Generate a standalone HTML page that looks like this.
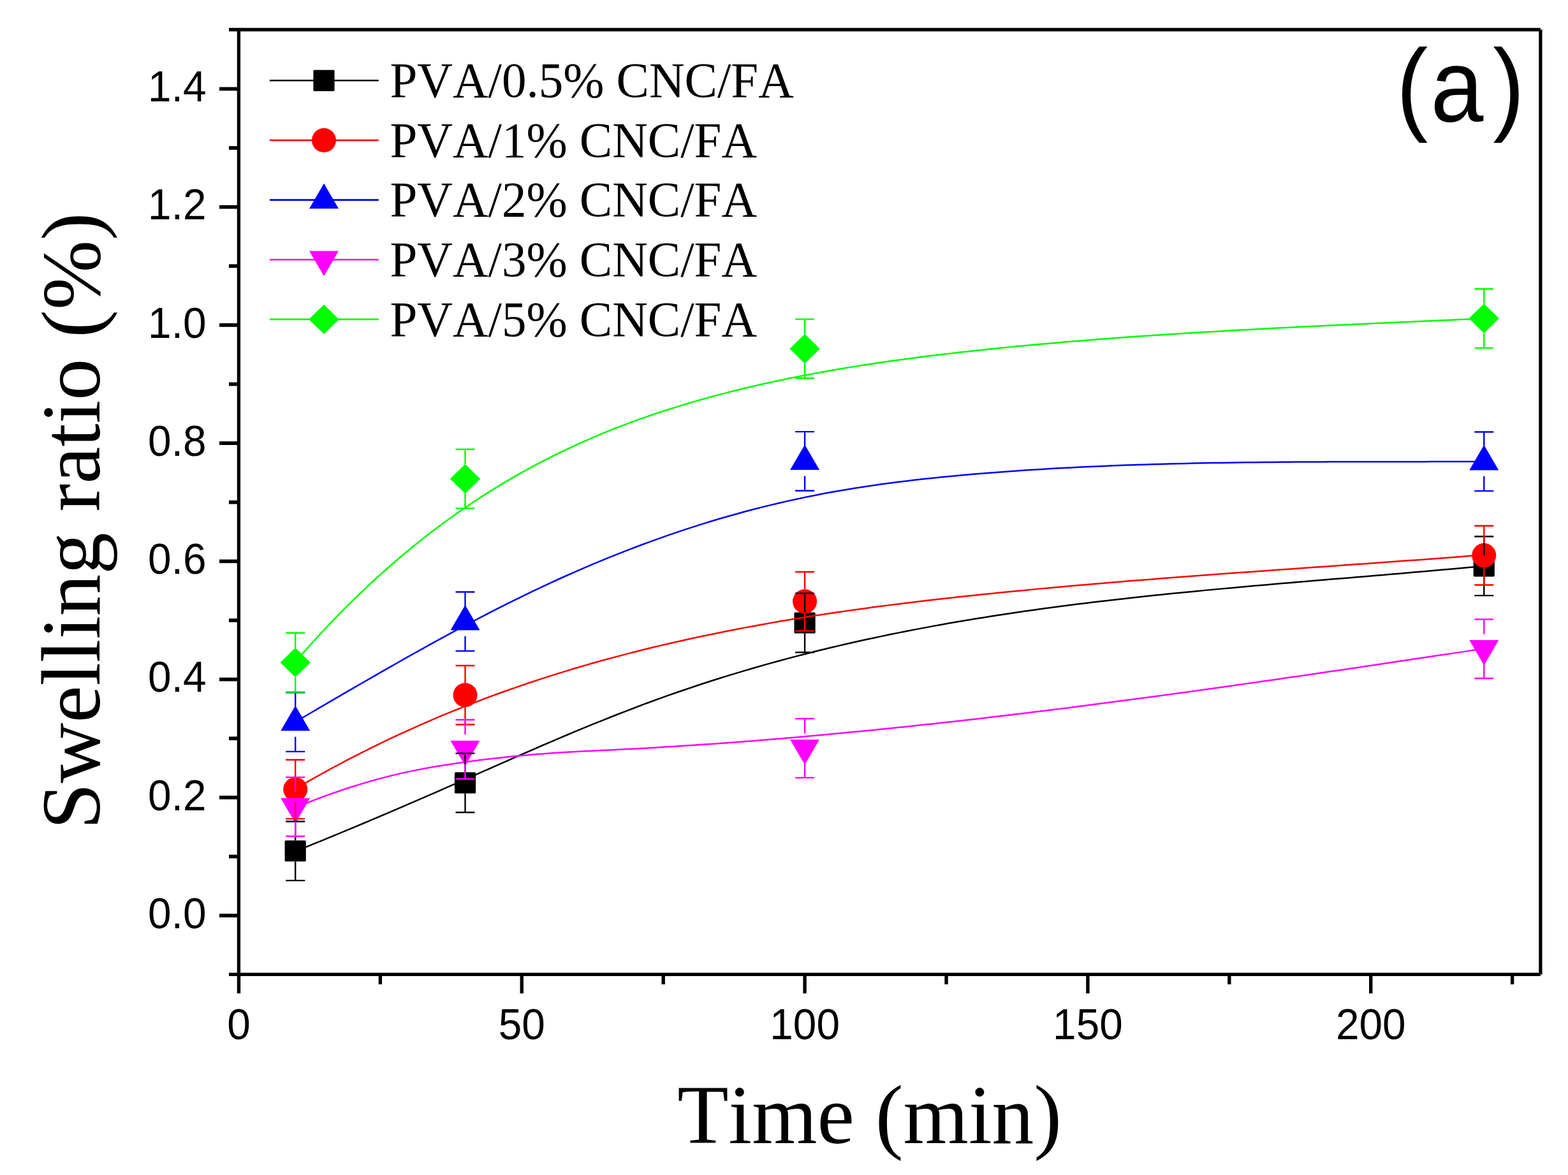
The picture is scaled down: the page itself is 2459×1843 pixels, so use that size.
<!DOCTYPE html>
<html><head><meta charset="utf-8"><title>Swelling ratio vs time</title>
<style>html,body{margin:0;padding:0;background:#fff;}svg{display:block;}text{font-kerning:none;}</style>
</head><body>
<svg width="2459" height="1843" viewBox="0 0 2459 1843">
<rect width="2459" height="1843" fill="#fff"/>
<g stroke="#000" stroke-width="5.3" fill="none">
<line x1="374.4" y1="44" x2="374.4" y2="1531"/>
<line x1="359" y1="46.5" x2="2415.9" y2="46.5"/>
<line x1="2415.9" y1="46.5" x2="2415.9" y2="1528.4"/>
<line x1="359" y1="1528.4" x2="2415.9" y2="1528.4"/>
</g>
<g stroke="#000" stroke-width="5.7" fill="none">
<line x1="344" y1="1436.1" x2="374.4" y2="1436.1"/>
<line x1="344" y1="1250.86" x2="374.4" y2="1250.86"/>
<line x1="344" y1="1065.62" x2="374.4" y2="1065.62"/>
<line x1="344" y1="880.38" x2="374.4" y2="880.38"/>
<line x1="344" y1="695.14" x2="374.4" y2="695.14"/>
<line x1="344" y1="509.9" x2="374.4" y2="509.9"/>
<line x1="344" y1="324.66" x2="374.4" y2="324.66"/>
<line x1="344" y1="139.42" x2="374.4" y2="139.42"/>
<line x1="359" y1="1343.48" x2="374.4" y2="1343.48"/>
<line x1="359" y1="1158.24" x2="374.4" y2="1158.24"/>
<line x1="359" y1="973" x2="374.4" y2="973"/>
<line x1="359" y1="787.76" x2="374.4" y2="787.76"/>
<line x1="359" y1="602.52" x2="374.4" y2="602.52"/>
<line x1="359" y1="417.28" x2="374.4" y2="417.28"/>
<line x1="359" y1="232.04" x2="374.4" y2="232.04"/>
</g>
<g stroke="#000" stroke-width="5.4" fill="none">
<line x1="374.45" y1="1528.4" x2="374.45" y2="1558.2"/>
<line x1="818.27" y1="1528.4" x2="818.27" y2="1558.2"/>
<line x1="1262.1" y1="1528.4" x2="1262.1" y2="1558.2"/>
<line x1="1705.92" y1="1528.4" x2="1705.92" y2="1558.2"/>
<line x1="2149.75" y1="1528.4" x2="2149.75" y2="1558.2"/>
<line x1="596.36" y1="1528.4" x2="596.36" y2="1543.9"/>
<line x1="1040.19" y1="1528.4" x2="1040.19" y2="1543.9"/>
<line x1="1484.01" y1="1528.4" x2="1484.01" y2="1543.9"/>
<line x1="1927.84" y1="1528.4" x2="1927.84" y2="1543.9"/>
<line x1="2371.66" y1="1528.4" x2="2371.66" y2="1543.9"/>
</g>
<g font-family="'Liberation Sans', Arial, sans-serif" font-size="69" fill="#000">
<text transform="translate(323.5 1455.8) scale(0.953 1)" text-anchor="end">0.0</text>
<text transform="translate(323.5 1270.56) scale(0.953 1)" text-anchor="end">0.2</text>
<text transform="translate(323.5 1085.32) scale(0.953 1)" text-anchor="end">0.4</text>
<text transform="translate(323.5 900.08) scale(0.953 1)" text-anchor="end">0.6</text>
<text transform="translate(323.5 714.84) scale(0.953 1)" text-anchor="end">0.8</text>
<text transform="translate(323.5 529.6) scale(0.953 1)" text-anchor="end">1.0</text>
<text transform="translate(323.5 344.36) scale(0.953 1)" text-anchor="end">1.2</text>
<text transform="translate(323.5 159.12) scale(0.953 1)" text-anchor="end">1.4</text>
<text transform="translate(374.45 1630.3) scale(0.953 1)" text-anchor="middle">0</text>
<text transform="translate(818.27 1630.3) scale(0.953 1)" text-anchor="middle">50</text>
<text transform="translate(1262.1 1630.3) scale(0.953 1)" text-anchor="middle">100</text>
<text transform="translate(1705.92 1630.3) scale(0.953 1)" text-anchor="middle">150</text>
<text transform="translate(2149.75 1630.3) scale(0.953 1)" text-anchor="middle">200</text>
</g>
<text transform="translate(1062.2 1792.8) scale(0.9946 1)" font-family="'Liberation Serif', 'Times New Roman', serif" font-size="132.3" fill="#000">Time (min)</text>
<text transform="translate(156.4 1301) rotate(-90)" x="0" y="0" font-family="'Liberation Serif', 'Times New Roman', serif" font-size="131" fill="#000">Swelling ratio (%)</text>
<text transform="translate(2189 189.8) scale(0.92 1)" font-family="'Liberation Sans', Arial, sans-serif" font-size="162" fill="#000"><tspan x="0.7">(</tspan><tspan x="59.3">a</tspan><tspan x="165.6">)</tspan></text>
<line x1="422.9" y1="126.3" x2="593.8" y2="126.3" stroke="#000000" stroke-width="2.6"/>
<rect x="491.4" y="109.7" width="33.2" height="33.2" rx="1.6" fill="#000000"/>
<text transform="translate(611.5 151.9) scale(0.9875 1)" font-family="'Liberation Serif', 'Times New Roman', serif" font-size="78" fill="#000">PVA/0.5% CNC/FA</text>
<line x1="422.9" y1="219.95" x2="593.8" y2="219.95" stroke="#ff0000" stroke-width="2.6"/>
<circle cx="508" cy="219.95" r="19" fill="#ff0000"/>
<text transform="translate(611.5 245.65) scale(0.9875 1)" font-family="'Liberation Serif', 'Times New Roman', serif" font-size="78" fill="#000">PVA/1% CNC/FA</text>
<line x1="422.9" y1="313.6" x2="593.8" y2="313.6" stroke="#0000ff" stroke-width="2.6"/>
<polygon points="508,287.8 531,327.2 485,327.2" fill="#0000ff"/>
<text transform="translate(611.5 339.4) scale(0.9875 1)" font-family="'Liberation Serif', 'Times New Roman', serif" font-size="78" fill="#000">PVA/2% CNC/FA</text>
<line x1="422.9" y1="407.25" x2="593.8" y2="407.25" stroke="#ff00ff" stroke-width="2.6"/>
<polygon points="508,433.05 531,393.65 485,393.65" fill="#ff00ff"/>
<text transform="translate(611.5 433.15) scale(0.9875 1)" font-family="'Liberation Serif', 'Times New Roman', serif" font-size="78" fill="#000">PVA/3% CNC/FA</text>
<line x1="422.9" y1="500.9" x2="593.8" y2="500.9" stroke="#00ff00" stroke-width="2.6"/>
<polygon points="508,477.7 531.7,500.9 508,524.1 484.3,500.9" fill="#00ff00"/>
<text transform="translate(611.5 526.9) scale(0.9875 1)" font-family="'Liberation Serif', 'Times New Roman', serif" font-size="78" fill="#000">PVA/5% CNC/FA</text>
<rect x="446.61" y="1318.17" width="33.2" height="33.2" rx="1.6" fill="#000000"/>
<rect x="712.91" y="1211.29" width="33.2" height="33.2" rx="1.6" fill="#000000"/>
<rect x="1245.5" y="960.38" width="33.2" height="33.2" rx="1.6" fill="#000000"/>
<rect x="2310.68" y="871.19" width="33.2" height="33.2" rx="1.6" fill="#000000"/>
<polyline points="463.21,1335.27 476.53,1329.9 489.84,1324.5 503.16,1319.08 516.47,1313.62 529.79,1308.13 543.1,1302.62 556.42,1297.07 569.73,1291.49 583.05,1285.89 596.36,1280.25 609.68,1274.59 622.99,1268.9 636.31,1263.18 649.62,1257.43 662.94,1251.66 676.25,1245.87 689.57,1240.06 702.88,1234.22 716.2,1228.37 729.51,1222.5 742.82,1216.62 756.14,1210.73 769.45,1204.83 782.77,1198.94 796.08,1193.06 809.4,1187.2 822.71,1181.36 836.03,1175.55 849.34,1169.77 862.66,1164.04 875.97,1158.36 889.29,1152.73 902.6,1147.16 915.92,1141.64 929.23,1136.19 942.55,1130.8 955.86,1125.48 969.18,1120.24 982.49,1115.06 995.81,1109.97 1009.12,1104.95 1022.43,1100.02 1035.75,1095.18 1049.06,1090.43 1062.38,1085.77 1075.69,1081.2 1089.01,1076.71 1102.32,1072.31 1115.64,1068 1128.95,1063.78 1142.27,1059.64 1155.58,1055.58 1168.9,1051.6 1182.21,1047.7 1195.53,1043.88 1208.84,1040.14 1222.16,1036.48 1235.47,1032.89 1248.79,1029.38 1262.1,1025.94 1275.41,1022.57 1288.73,1019.27 1302.04,1016.05 1315.36,1012.89 1328.67,1009.8 1341.99,1006.78 1355.3,1003.82 1368.62,1000.93 1381.93,998.1 1395.25,995.33 1408.56,992.62 1421.88,989.98 1435.19,987.39 1448.51,984.86 1461.82,982.38 1475.14,979.96 1488.45,977.6 1501.77,975.29 1515.08,973.03 1528.39,970.82 1541.71,968.66 1555.02,966.55 1568.34,964.48 1581.65,962.46 1594.97,960.49 1608.28,958.56 1621.6,956.67 1634.91,954.83 1648.23,953.02 1661.54,951.25 1674.86,949.53 1688.17,947.83 1701.49,946.18 1714.8,944.56 1728.12,942.97 1741.43,941.42 1754.75,939.89 1768.06,938.4 1781.38,936.93 1794.69,935.5 1808,934.09 1821.32,932.7 1834.63,931.34 1847.95,930.01 1861.26,928.69 1874.58,927.4 1887.89,926.12 1901.21,924.87 1914.52,923.63 1927.84,922.41 1941.15,921.2 1954.47,920.01 1967.78,918.83 1981.1,917.66 1994.41,916.5 2007.73,915.36 2021.04,914.22 2034.36,913.09 2047.67,911.96 2060.99,910.84 2074.3,909.72 2087.61,908.61 2100.93,907.5 2114.24,906.38 2127.56,905.27 2140.87,904.15 2154.19,903.04 2167.5,901.91 2180.82,900.79 2194.13,899.65 2207.45,898.51 2220.76,897.36 2234.08,896.2 2247.39,895.03 2260.71,893.84 2274.02,892.65 2287.34,891.44 2300.65,890.21 2313.97,888.97 2327.28,887.7" stroke="#000000" stroke-width="2.5" fill="none" stroke-linejoin="round"/>
<circle cx="463.21" cy="1238.08" r="19" fill="#ff0000"/>
<circle cx="729.51" cy="1090.26" r="19" fill="#ff0000"/>
<circle cx="1262.1" cy="943.36" r="19" fill="#ff0000"/>
<circle cx="2327.28" cy="871.12" r="19" fill="#ff0000"/>
<polyline points="463.21,1237.31 476.53,1229.56 489.84,1221.96 503.16,1214.49 516.47,1207.17 529.79,1199.99 543.1,1192.94 556.42,1186.03 569.73,1179.25 583.05,1172.6 596.36,1166.08 609.68,1159.69 622.99,1153.43 636.31,1147.29 649.62,1141.28 662.94,1135.38 676.25,1129.61 689.57,1123.95 702.88,1118.41 716.2,1112.98 729.51,1107.67 742.82,1102.47 756.14,1097.37 769.45,1092.39 782.77,1087.51 796.08,1082.73 809.4,1078.06 822.71,1073.48 836.03,1069.01 849.34,1064.63 862.66,1060.35 875.97,1056.16 889.29,1052.07 902.6,1048.06 915.92,1044.15 929.23,1040.32 942.55,1036.57 955.86,1032.91 969.18,1029.34 982.49,1025.84 995.81,1022.42 1009.12,1019.08 1022.43,1015.81 1035.75,1012.61 1049.06,1009.49 1062.38,1006.44 1075.69,1003.46 1089.01,1000.54 1102.32,997.69 1115.64,994.91 1128.95,992.19 1142.27,989.53 1155.58,986.93 1168.9,984.39 1182.21,981.91 1195.53,979.49 1208.84,977.12 1222.16,974.81 1235.47,972.55 1248.79,970.35 1262.1,968.19 1275.41,966.08 1288.73,964.03 1302.04,962.01 1315.36,960.05 1328.67,958.12 1341.99,956.24 1355.3,954.41 1368.62,952.61 1381.93,950.85 1395.25,949.13 1408.56,947.44 1421.88,945.79 1435.19,944.17 1448.51,942.59 1461.82,941.04 1475.14,939.51 1488.45,938.02 1501.77,936.55 1515.08,935.11 1528.39,933.69 1541.71,932.29 1555.02,930.92 1568.34,929.57 1581.65,928.24 1594.97,926.93 1608.28,925.65 1621.6,924.38 1634.91,923.13 1648.23,921.9 1661.54,920.69 1674.86,919.49 1688.17,918.31 1701.49,917.15 1714.8,916.01 1728.12,914.88 1741.43,913.76 1754.75,912.66 1768.06,911.57 1781.38,910.49 1794.69,909.43 1808,908.38 1821.32,907.34 1834.63,906.3 1847.95,905.28 1861.26,904.27 1874.58,903.27 1887.89,902.28 1901.21,901.29 1914.52,900.31 1927.84,899.34 1941.15,898.37 1954.47,897.41 1967.78,896.45 1981.1,895.49 1994.41,894.54 2007.73,893.6 2021.04,892.65 2034.36,891.71 2047.67,890.77 2060.99,889.83 2074.3,888.89 2087.61,887.95 2100.93,887.01 2114.24,886.06 2127.56,885.12 2140.87,884.17 2154.19,883.22 2167.5,882.26 2180.82,881.3 2194.13,880.33 2207.45,879.36 2220.76,878.39 2234.08,877.4 2247.39,876.41 2260.71,875.41 2274.02,874.4 2287.34,873.38 2300.65,872.36 2313.97,871.32 2327.28,870.27" stroke="#ff0000" stroke-width="2.5" fill="none" stroke-linejoin="round"/>
<polygon points="463.21,1106.78 486.21,1146.18 440.21,1146.18" fill="#0000ff"/>
<polygon points="729.51,949.05 752.51,988.45 706.51,988.45" fill="#0000ff"/>
<polygon points="1262.1,697.59 1285.1,736.99 1239.1,736.99" fill="#0000ff"/>
<polygon points="2327.28,698.05 2350.28,737.45 2304.28,737.45" fill="#0000ff"/>
<polyline points="463.21,1132.29 476.53,1124.51 489.84,1116.73 503.16,1108.95 516.47,1101.18 529.79,1093.42 543.1,1085.67 556.42,1077.94 569.73,1070.24 583.05,1062.56 596.36,1054.91 609.68,1047.3 622.99,1039.73 636.31,1032.2 649.62,1024.72 662.94,1017.29 676.25,1009.91 689.57,1002.59 702.88,995.34 716.2,988.15 729.51,981.04 742.82,974 756.14,967.04 769.45,960.16 782.77,953.37 796.08,946.67 809.4,940.05 822.71,933.54 836.03,927.12 849.34,920.8 862.66,914.59 875.97,908.49 889.29,902.49 902.6,896.61 915.92,890.83 929.23,885.17 942.55,879.61 955.86,874.17 969.18,868.83 982.49,863.61 995.81,858.49 1009.12,853.49 1022.43,848.61 1035.75,843.83 1049.06,839.16 1062.38,834.61 1075.69,830.18 1089.01,825.85 1102.32,821.64 1115.64,817.55 1128.95,813.56 1142.27,809.7 1155.58,805.95 1168.9,802.31 1182.21,798.79 1195.53,795.39 1208.84,792.1 1222.16,788.93 1235.47,785.87 1248.79,782.94 1262.1,780.12 1275.41,777.41 1288.73,774.83 1302.04,772.35 1315.36,769.98 1328.67,767.71 1341.99,765.55 1355.3,763.47 1368.62,761.49 1381.93,759.6 1395.25,757.8 1408.56,756.08 1421.88,754.43 1435.19,752.86 1448.51,751.35 1461.82,749.92 1475.14,748.55 1488.45,747.23 1501.77,745.98 1515.08,744.77 1528.39,743.61 1541.71,742.5 1555.02,741.43 1568.34,740.41 1581.65,739.43 1594.97,738.48 1608.28,737.58 1621.6,736.72 1634.91,735.89 1648.23,735.11 1661.54,734.36 1674.86,733.64 1688.17,732.96 1701.49,732.32 1714.8,731.71 1728.12,731.13 1741.43,730.58 1754.75,730.06 1768.06,729.57 1781.38,729.11 1794.69,728.68 1808,728.27 1821.32,727.89 1834.63,727.53 1847.95,727.2 1861.26,726.9 1874.58,726.61 1887.89,726.35 1901.21,726.11 1914.52,725.88 1927.84,725.68 1941.15,725.49 1954.47,725.32 1967.78,725.17 1981.1,725.03 1994.41,724.91 2007.73,724.8 2021.04,724.7 2034.36,724.61 2047.67,724.54 2060.99,724.47 2074.3,724.42 2087.61,724.37 2100.93,724.33 2114.24,724.3 2127.56,724.27 2140.87,724.24 2154.19,724.22 2167.5,724.2 2180.82,724.19 2194.13,724.17 2207.45,724.16 2220.76,724.14 2234.08,724.13 2247.39,724.11 2260.71,724.08 2274.02,724.06 2287.34,724.02 2300.65,723.98 2313.97,723.94 2327.28,723.88" stroke="#0000ff" stroke-width="2.5" fill="none" stroke-linejoin="round"/>
<polygon points="463.21,1291.2 486.21,1251.8 440.21,1251.8" fill="#ff00ff"/>
<polygon points="729.51,1201.17 752.51,1161.77 706.51,1161.77" fill="#ff00ff"/>
<polygon points="1262.1,1199.41 1285.1,1160.01 1239.1,1160.01" fill="#ff00ff"/>
<polygon points="2327.28,1043.44 2350.28,1004.04 2304.28,1004.04" fill="#ff00ff"/>
<polyline points="463.21,1266.65 476.53,1261.28 489.84,1256.07 503.16,1251.03 516.47,1246.17 529.79,1241.5 543.1,1237.02 556.42,1232.73 569.73,1228.64 583.05,1224.76 596.36,1221.09 609.68,1217.64 622.99,1214.41 636.31,1211.4 649.62,1208.6 662.94,1206 676.25,1203.57 689.57,1201.31 702.88,1199.18 716.2,1197.18 729.51,1195.3 742.82,1193.51 756.14,1191.81 769.45,1190.21 782.77,1188.7 796.08,1187.29 809.4,1185.96 822.71,1184.72 836.03,1183.57 849.34,1182.5 862.66,1181.52 875.97,1180.62 889.29,1179.8 902.6,1179.05 915.92,1178.36 929.23,1177.72 942.55,1177.08 955.86,1176.45 969.18,1175.79 982.49,1175.11 995.81,1174.4 1009.12,1173.66 1022.43,1172.9 1035.75,1172.12 1049.06,1171.31 1062.38,1170.47 1075.69,1169.62 1089.01,1168.74 1102.32,1167.83 1115.64,1166.9 1128.95,1165.95 1142.27,1164.98 1155.58,1163.98 1168.9,1162.96 1182.21,1161.92 1195.53,1160.86 1208.84,1159.77 1222.16,1158.67 1235.47,1157.54 1248.79,1156.39 1262.1,1155.23 1275.41,1154.04 1288.73,1152.83 1302.04,1151.6 1315.36,1150.36 1328.67,1149.09 1341.99,1147.8 1355.3,1146.5 1368.62,1145.17 1381.93,1143.83 1395.25,1142.47 1408.56,1141.1 1421.88,1139.7 1435.19,1138.29 1448.51,1136.86 1461.82,1135.41 1475.14,1133.95 1488.45,1132.47 1501.77,1130.98 1515.08,1129.47 1528.39,1127.94 1541.71,1126.4 1555.02,1124.84 1568.34,1123.27 1581.65,1121.68 1594.97,1120.08 1608.28,1118.47 1621.6,1116.84 1634.91,1115.2 1648.23,1113.54 1661.54,1111.88 1674.86,1110.2 1688.17,1108.5 1701.49,1106.8 1714.8,1105.08 1728.12,1103.35 1741.43,1101.61 1754.75,1099.86 1768.06,1098.09 1781.38,1096.32 1794.69,1094.53 1808,1092.74 1821.32,1090.93 1834.63,1089.12 1847.95,1087.29 1861.26,1085.46 1874.58,1083.62 1887.89,1081.77 1901.21,1079.91 1914.52,1078.04 1927.84,1076.16 1941.15,1074.28 1954.47,1072.38 1967.78,1070.48 1981.1,1068.58 1994.41,1066.67 2007.73,1064.75 2021.04,1062.82 2034.36,1060.89 2047.67,1058.95 2060.99,1057.01 2074.3,1055.06 2087.61,1053.11 2100.93,1051.15 2114.24,1049.18 2127.56,1047.22 2140.87,1045.25 2154.19,1043.27 2167.5,1041.29 2180.82,1039.31 2194.13,1037.33 2207.45,1035.34 2220.76,1033.35 2234.08,1031.35 2247.39,1029.36 2260.71,1027.36 2274.02,1025.37 2287.34,1023.37 2300.65,1021.37 2313.97,1019.36 2327.28,1017.36" stroke="#ff00ff" stroke-width="2.5" fill="none" stroke-linejoin="round"/>
<polygon points="463.21,1015.93 486.91,1039.13 463.21,1062.33 439.51,1039.13" fill="#00ff00"/>
<polygon points="729.51,727.88 753.21,751.08 729.51,774.28 705.81,751.08" fill="#00ff00"/>
<polygon points="1262.1,523.75 1285.8,546.95 1262.1,570.15 1238.4,546.95" fill="#00ff00"/>
<polygon points="2327.28,476.33 2350.98,499.53 2327.28,522.73 2303.58,499.53" fill="#00ff00"/>
<polyline points="463.21,1038.17 476.53,1022.91 489.84,1008.02 503.16,993.49 516.47,979.31 529.79,965.48 543.1,951.99 556.42,938.84 569.73,926.03 583.05,913.53 596.36,901.36 609.68,889.51 622.99,877.97 636.31,866.74 649.62,855.8 662.94,845.16 676.25,834.82 689.57,824.76 702.88,814.97 716.2,805.47 729.51,796.23 742.82,787.26 756.14,778.55 769.45,770.09 782.77,761.88 796.08,753.92 809.4,746.19 822.71,738.7 836.03,731.43 849.34,724.39 862.66,717.57 875.97,710.95 889.29,704.55 902.6,698.35 915.92,692.35 929.23,686.53 942.55,680.91 955.86,675.46 969.18,670.2 982.49,665.1 995.81,660.17 1009.12,655.4 1022.43,650.78 1035.75,646.32 1049.06,642 1062.38,637.82 1075.69,633.77 1089.01,629.86 1102.32,626.07 1115.64,622.39 1128.95,618.84 1142.27,615.39 1155.58,612.04 1168.9,608.79 1182.21,605.65 1195.53,602.59 1208.84,599.63 1222.16,596.76 1235.47,593.98 1248.79,591.29 1262.1,588.67 1275.41,586.14 1288.73,583.69 1302.04,581.31 1315.36,579.01 1328.67,576.77 1341.99,574.61 1355.3,572.51 1368.62,570.47 1381.93,568.5 1395.25,566.59 1408.56,564.73 1421.88,562.92 1435.19,561.17 1448.51,559.47 1461.82,557.81 1475.14,556.2 1488.45,554.63 1501.77,553.1 1515.08,551.61 1528.39,550.15 1541.71,548.72 1555.02,547.33 1568.34,545.96 1581.65,544.63 1594.97,543.33 1608.28,542.05 1621.6,540.81 1634.91,539.59 1648.23,538.4 1661.54,537.24 1674.86,536.1 1688.17,534.99 1701.49,533.9 1714.8,532.84 1728.12,531.8 1741.43,530.78 1754.75,529.79 1768.06,528.81 1781.38,527.86 1794.69,526.93 1808,526.02 1821.32,525.13 1834.63,524.26 1847.95,523.4 1861.26,522.57 1874.58,521.75 1887.89,520.94 1901.21,520.15 1914.52,519.38 1927.84,518.62 1941.15,517.87 1954.47,517.14 1967.78,516.42 1981.1,515.71 1994.41,515.02 2007.73,514.33 2021.04,513.65 2034.36,512.99 2047.67,512.33 2060.99,511.68 2074.3,511.04 2087.61,510.4 2100.93,509.77 2114.24,509.15 2127.56,508.53 2140.87,507.92 2154.19,507.31 2167.5,506.7 2180.82,506.1 2194.13,505.5 2207.45,504.9 2220.76,504.3 2234.08,503.7 2247.39,503.1 2260.71,502.5 2274.02,501.89 2287.34,501.29 2300.65,500.68 2313.97,500.07 2327.28,499.45" stroke="#00ff00" stroke-width="2.5" fill="none" stroke-linejoin="round"/>
<path d="M463.21 1318.27V1288.46M448.21 1288.46H478.21M463.21 1351.27V1381.08M448.21 1381.08H478.21M729.51 1211.39V1181.58M714.51 1181.58H744.51M729.51 1244.39V1274.2M714.51 1274.2H744.51M1262.1 960.48V930.67M1247.1 930.67H1277.1M1262.1 993.48V1023.29M1247.1 1023.29H1277.1M2327.28 871.29V841.48M2312.28 841.48H2342.28M2327.28 904.29V934.1M2312.28 934.1H2342.28" stroke="#000000" stroke-width="2.4" fill="none"/>
<path d="M463.21 1219.08V1191.77M448.21 1191.77H478.21M463.21 1257.08V1284.39M448.21 1284.39H478.21M729.51 1071.26V1043.95M714.51 1043.95H744.51M729.51 1109.26V1136.57M714.51 1136.57H744.51M1262.1 924.36V897.05M1247.1 897.05H1277.1M1262.1 962.36V989.67M1247.1 989.67H1277.1M2327.28 852.12V824.81M2312.28 824.81H2342.28M2327.28 890.12V917.43M2312.28 917.43H2342.28" stroke="#ff0000" stroke-width="2.4" fill="none"/>
<path d="M463.21 1109.38V1086.27M448.21 1086.27H478.21M463.21 1155.78V1178.89M448.21 1178.89H478.21M729.51 951.65V928.54M714.51 928.54H744.51M729.51 998.05V1021.16M714.51 1021.16H744.51M1262.1 700.19V677.08M1247.1 677.08H1277.1M1262.1 746.59V769.7M1247.1 769.7H1277.1M2327.28 700.65V677.54M2312.28 677.54H2342.28M2327.28 747.05V770.16M2312.28 770.16H2342.28" stroke="#0000ff" stroke-width="2.4" fill="none"/>
<path d="M463.21 1242.2V1219.09M448.21 1219.09H478.21M463.21 1288.6V1311.71M448.21 1311.71H478.21M729.51 1152.17V1129.06M714.51 1129.06H744.51M729.51 1198.57V1221.68M714.51 1221.68H744.51M1262.1 1150.41V1127.3M1247.1 1127.3H1277.1M1262.1 1196.81V1219.92M1247.1 1219.92H1277.1M2327.28 994.44V971.33M2312.28 971.33H2342.28M2327.28 1040.84V1063.95M2312.28 1063.95H2342.28" stroke="#ff00ff" stroke-width="2.4" fill="none"/>
<path d="M463.21 1015.93V992.82M448.21 992.82H478.21M463.21 1062.33V1085.44M448.21 1085.44H478.21M729.51 727.88V704.77M714.51 704.77H744.51M729.51 774.28V797.39M714.51 797.39H744.51M1262.1 523.75V500.64M1247.1 500.64H1277.1M1262.1 570.15V593.26M1247.1 593.26H1277.1M2327.28 476.33V453.22M2312.28 453.22H2342.28M2327.28 522.73V545.84M2312.28 545.84H2342.28" stroke="#00ff00" stroke-width="2.4" fill="none"/>
</svg>
</body></html>
